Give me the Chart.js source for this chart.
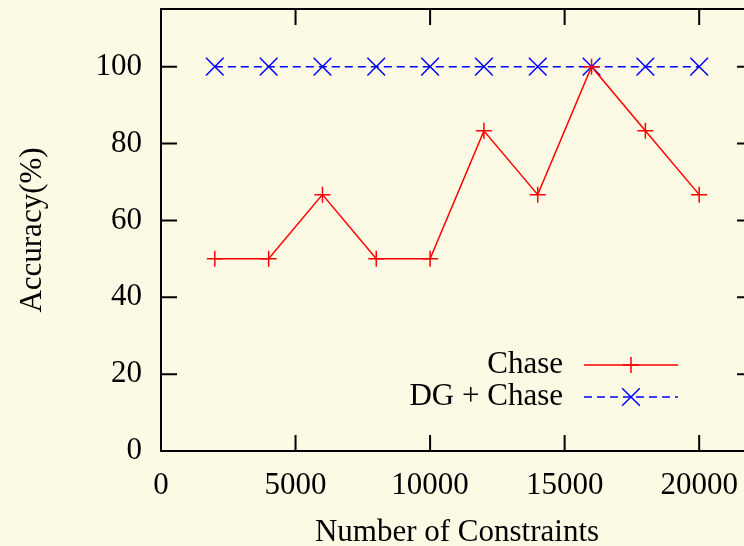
<!DOCTYPE html>
<html>
<head>
<meta charset="utf-8">
<script src="https://cdn.jsdelivr.net/npm/chart.js@4"></script>
<style>
  html, body {
    margin: 0;
    padding: 0;
    background: #fcfae4;
  }
  #wrap {
    width: 744px;
    height: 546px;
    overflow: hidden;
  }
</style>
</head>
<body>
<div id="wrap">
  <canvas id="accuracyChart" width="760" height="546"></canvas>
</div>
<script>
const constraints = [2000, 4000, 6000, 8000, 10000, 12000, 14000, 16000, 18000, 20000];
const chaseAccuracy = [50, 50, 66.7, 50, 50, 83.3, 66.7, 100, 83.3, 66.7];
const dgChaseAccuracy = [100, 100, 100, 100, 100, 100, 100, 100, 100, 100];

const xTickValues = [0, 5000, 10000, 15000, 20000];
const yTickValues = [0, 20, 40, 60, 80, 100];

const serif = "'Liberation Serif', 'Times New Roman', serif";
const labelFont = { family: serif, size: 31 };

// gnuplot style box with ticks pointing inward on all four sides
const framePlugin = {
  id: "frame",
  afterDatasetsDraw(chart) {
    const { ctx, chartArea: a, scales } = chart;
    const len = 16;
    ctx.save();
    ctx.strokeStyle = "#000";
    ctx.lineWidth = 2;
    ctx.beginPath();
    scales.x.ticks.forEach((t) => {
      const px = scales.x.getPixelForValue(t.value);
      ctx.moveTo(px, a.bottom);
      ctx.lineTo(px, a.bottom - len);
      ctx.moveTo(px, a.top);
      ctx.lineTo(px, a.top + len);
    });
    scales.y.ticks.forEach((t) => {
      const py = scales.y.getPixelForValue(t.value);
      ctx.moveTo(a.left, py);
      ctx.lineTo(a.left + len, py);
      ctx.moveTo(a.right, py);
      ctx.lineTo(a.right - len, py);
    });
    ctx.stroke();
    ctx.strokeRect(a.left, a.top, a.right - a.left, a.bottom - a.top);
    ctx.restore();
  },
};

// key with the text on the left and the line sample on the right
const keyPlugin = {
  id: "key",
  afterDraw(chart, args, opts) {
    const ctx = chart.ctx;
    ctx.save();
    chart.data.datasets.forEach((ds, i) => {
      const y = opts.top + i * opts.rowGap;
      ctx.fillStyle = "#000";
      ctx.font = `${labelFont.size}px ${serif}`;
      ctx.textAlign = "right";
      ctx.textBaseline = "middle";
      ctx.fillText(ds.label, opts.textRight, y);

      ctx.strokeStyle = ds.borderColor;
      ctx.lineWidth = ds.borderWidth;
      ctx.setLineDash(ds.borderDash || []);
      ctx.beginPath();
      ctx.moveTo(opts.sampleFrom, y);
      ctx.lineTo(opts.sampleTo, y);
      ctx.stroke();
      ctx.setLineDash([]);
      Chart.helpers.drawPoint(
        ctx,
        {
          pointStyle: ds.pointStyle,
          radius: ds.pointRadius,
          rotation: 0,
          borderWidth: ds.pointBorderWidth,
        },
        (opts.sampleFrom + opts.sampleTo) / 2,
        y
      );
    });
    ctx.restore();
  },
};

new Chart(document.getElementById("accuracyChart"), {
  type: "line",
  data: {
    labels: constraints,
    datasets: [
      {
        label: "Chase",
        data: constraints.map((c, i) => ({ x: c, y: chaseAccuracy[i] })),
        borderColor: "#ff0000",
        backgroundColor: "#ff0000",
        borderWidth: 1.5,
        pointStyle: "cross",
        pointRadius: 8,
        pointBorderWidth: 1.5,
        pointBorderColor: "#ff0000",
        tension: 0,
      },
      {
        label: "DG + Chase",
        data: constraints.map((c, i) => ({ x: c, y: dgChaseAccuracy[i] })),
        borderColor: "#0000ff",
        backgroundColor: "#0000ff",
        borderWidth: 1.5,
        borderDash: [8, 5],
        pointStyle: "crossRot",
        pointRadius: 12.5,
        pointBorderWidth: 1.5,
        pointBorderColor: "#0000ff",
        tension: 0,
      },
    ],
  },
  options: {
    responsive: false,
    animation: false,
    layout: {
      autoPadding: false,
      padding: { top: 9, right: 7, left: 0, bottom: 0 },
    },
    plugins: {
      legend: { display: false },
      tooltip: { enabled: false },
      key: {
        textRight: 563,
        top: 365,
        rowGap: 32,
        sampleFrom: 584,
        sampleTo: 678,
      },
    },
    scales: {
      x: {
        type: "linear",
        min: 0,
        max: 22000,
        afterBuildTicks: (s) => {
          s.ticks = xTickValues.map((v) => ({ value: v }));
        },
        afterFit: (s) => {
          s.height = 95;
          s.paddingLeft = 0;
          s.paddingRight = 0;
        },
        grid: { display: false, drawTicks: false },
        border: { display: false },
        ticks: {
          color: "#000",
          font: labelFont,
          padding: 16,
          maxRotation: 0,
          callback: (v) => String(v),
        },
        title: {
          display: true,
          text: "Number of Constraints",
          color: "#000",
          font: { family: serif, size: 31, lineHeight: 0.8 },
          padding: { top: 0, bottom: 1 },
        },
      },
      y: {
        type: "linear",
        min: 0,
        max: 115,
        afterBuildTicks: (s) => {
          s.ticks = yTickValues.map((v) => ({ value: v }));
        },
        afterFit: (s) => {
          s.width = 161;
          s.paddingTop = 0;
          s.paddingBottom = 0;
        },
        grid: { display: false, drawTicks: false },
        border: { display: false },
        ticks: {
          color: "#000",
          font: labelFont,
          padding: 19,
          callback: (v) => String(v),
        },
        title: {
          display: true,
          text: "Accuracy(%)",
          color: "#000",
          font: { family: serif, size: 31 },
          padding: { top: 14, bottom: 0 },
        },
      },
    },
  },
  plugins: [framePlugin, keyPlugin],
});
</script>
</body>
</html>
